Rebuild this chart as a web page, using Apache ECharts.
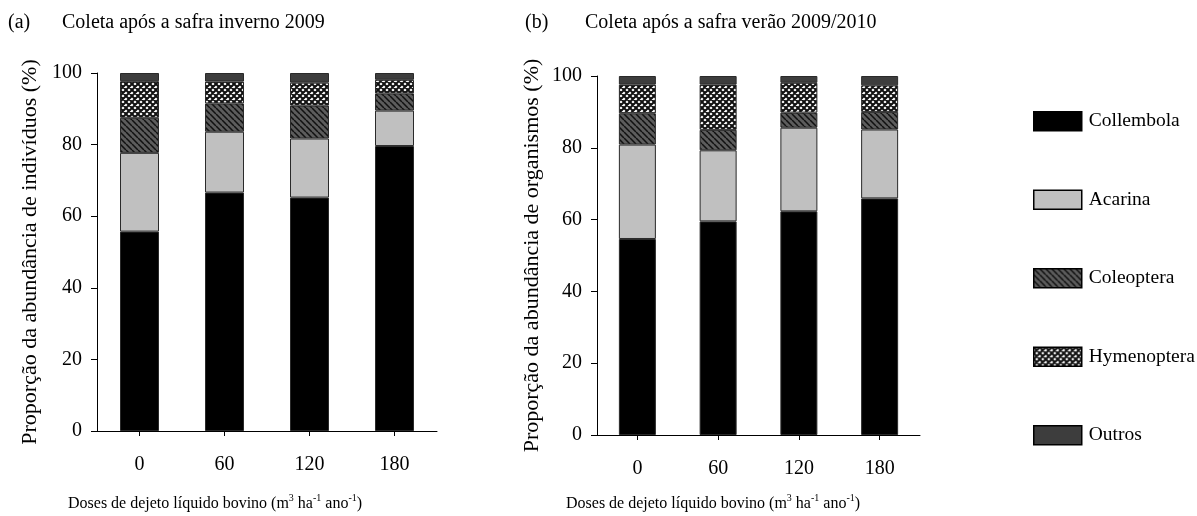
<!DOCTYPE html>
<html>
<head>
<meta charset="utf-8">
<script src="https://cdn.jsdelivr.net/npm/echarts@6/dist/echarts.min.js"></script>
<style>
html,body{margin:0;padding:0;background:#fff;}
#chart{width:1197px;height:516px;}
</style>
</head>
<body>
<div id="chart"></div>
<script>
// ---- data ----
const categories = ['0', '60', '120', '180'];
const seriesNames = ['Collembola', 'Acarina', 'Coleoptera', 'Hymenoptera', 'Outros'];
// (a) Coleta após a safra inverno 2009
const collembolaA = [55.7, 66.6, 65.2, 79.6];
const acarinaA = [22.0, 17.0, 16.5, 9.9];
const coleopteraA = [9.8, 7.9, 9.2, 4.8];
const hymenopteraA = [10.2, 6.1, 6.4, 3.8];
const outrosA = [2.3, 2.4, 2.7, 1.9];
// (b) Coleta após a safra verão 2009/2010
const collembolaB = [54.6, 59.5, 62.3, 65.9];
const acarinaB = [26.3, 19.8, 23.3, 19.2];
const coleopteraB = [8.7, 5.7, 4.2, 4.9];
const hymenopteraB = [8.0, 12.6, 8.3, 7.4];
const outrosB = [2.4, 2.4, 1.9, 2.6];
const yMin = 0, yMax = 100, yInterval = 20;
const titleA = 'Coleta após a safra inverno 2009';
const titleB = 'Coleta após a safra verão 2009/2010';
const yNameA = 'Proporção da abundância de indivíduos (%)';
const yNameB = 'Proporção da abundância de organismos (%)';

// ---- styles ----
const FONT = "'Liberation Serif', 'Times New Roman', serif";

function hatchPattern() {
  const c = document.createElement('canvas');
  c.width = 6; c.height = 6;
  const g = c.getContext('2d');
  g.fillStyle = '#5c5c5c'; g.fillRect(0, 0, 6, 6);
  g.strokeStyle = '#111'; g.lineWidth = 1.5;
  g.beginPath();
  [-6, 0, 6].forEach(k => { g.moveTo(k, 0); g.lineTo(k + 6, 6); });
  g.stroke();
  return c;
}
function crossPattern() {
  const c = document.createElement('canvas');
  c.width = 6; c.height = 6;
  const g = c.getContext('2d');
  g.fillStyle = '#ffffff'; g.fillRect(0, 0, 6, 6);
  g.strokeStyle = '#111'; g.lineWidth = 2;
  g.beginPath();
  [-6, 0, 6].forEach(k => { g.moveTo(k, 0); g.lineTo(k + 6, 6); g.moveTo(k + 6, 0); g.lineTo(k, 6); });
  g.stroke();
  return c;
}
const fills = [
  '#000000',
  '#c0c0c0',
  { image: hatchPattern(), repeat: 'repeat' },
  { image: crossPattern(), repeat: 'repeat' },
  '#3d3d3d'
];

const dataA = [collembolaA, acarinaA, coleopteraA, hymenopteraA, outrosA];
const dataB = [collembolaB, acarinaB, coleopteraB, hymenopteraB, outrosB];

function makeSeries(arrs, idx, stack, bw) {
  return arrs.map((d, i) => ({
    name: seriesNames[i],
    type: 'bar',
    stack: stack,
    xAxisIndex: idx,
    yAxisIndex: idx,
    barWidth: bw,
    data: d,
    itemStyle: { color: fills[i], borderColor: '#2a2a2a', borderWidth: 1 },
    emphasis: { disabled: true },
    animation: false
  }));
}

function yAxis(idx, name, gap) {
  return {
    type: 'value', gridIndex: idx, min: yMin, max: yMax, interval: yInterval,
    name: name, nameLocation: 'middle', nameGap: gap, nameRotate: 90,
    nameTextStyle: { fontFamily: FONT, fontSize: 22, color: '#000' },
    axisLine: { show: true, lineStyle: { color: '#000', width: 1 } },
    axisTick: { show: true, inside: false, length: 6, lineStyle: { color: '#000' } },
    axisLabel: { fontFamily: FONT, fontSize: 20, color: '#000', margin: 15 },
    splitLine: { show: false }
  };
}
function xAxis(idx) {
  return {
    type: 'category', gridIndex: idx, data: categories,
    axisLine: { show: true, lineStyle: { color: '#000', width: 1 } },
    axisTick: { show: true, alignWithLabel: true, length: 5, lineStyle: { color: '#000' } },
    axisLabel: { fontFamily: FONT, fontSize: 20, color: '#000', margin: 24 },
    splitLine: { show: false }
  };
}

const xNameRich = {
  n: { fontFamily: FONT, fontSize: 16, color: '#000', lineHeight: 22 },
  s: { fontFamily: FONT, fontSize: 10, color: '#000', lineHeight: 12, verticalAlign: 'top' }
};
const xNameText = '{n|Doses de dejeto líquido bovino (m}{s|3}{n| ha}{s|-1}{n| ano}{s|-1}{n|)}';

const chart = echarts.init(document.getElementById('chart'), null, { renderer: 'canvas' });
chart.setOption({
  animation: false,
  backgroundColor: '#fff',
  grid: [
    { left: 97, top: 73, width: 340, height: 358 },
    { left: 597, top: 76, width: 323, height: 359 }
  ],
  xAxis: [xAxis(0), xAxis(1)],
  yAxis: [yAxis(0, yNameA, 56), yAxis(1, yNameB, 54)],
  legend: {
    orient: 'vertical', left: 1028, top: 106,
    itemWidth: 48, itemHeight: 19, itemGap: 58,
    icon: 'rect',
    data: seriesNames,
    textStyle: { fontFamily: FONT, fontSize: 19.5, color: '#000', padding: [0, 0, 0, 2] },
    itemStyle: { borderColor: '#000', borderWidth: 1.5 },
    selectedMode: false
  },
  graphic: [
    { type: 'text', left: 8, top: 13, style: { text: '(a)', font: '20px ' + FONT, fill: '#000' } },
    { type: 'text', left: 62, top: 13, style: { text: titleA, font: '20px ' + FONT, fill: '#000' } },
    { type: 'text', left: 525, top: 13, style: { text: '(b)', font: '20px ' + FONT, fill: '#000' } },
    { type: 'text', left: 585, top: 13, style: { text: titleB, font: '20px ' + FONT, fill: '#000' } },
    { type: 'text', left: 68, top: 493, style: { text: xNameText, rich: xNameRich } },
    { type: 'text', left: 566, top: 493, style: { text: xNameText, rich: xNameRich } }
  ],
  series: [].concat(makeSeries(dataA, 0, 'a', 39), makeSeries(dataB, 1, 'b', 37))
});
</script>
</body>
</html>
